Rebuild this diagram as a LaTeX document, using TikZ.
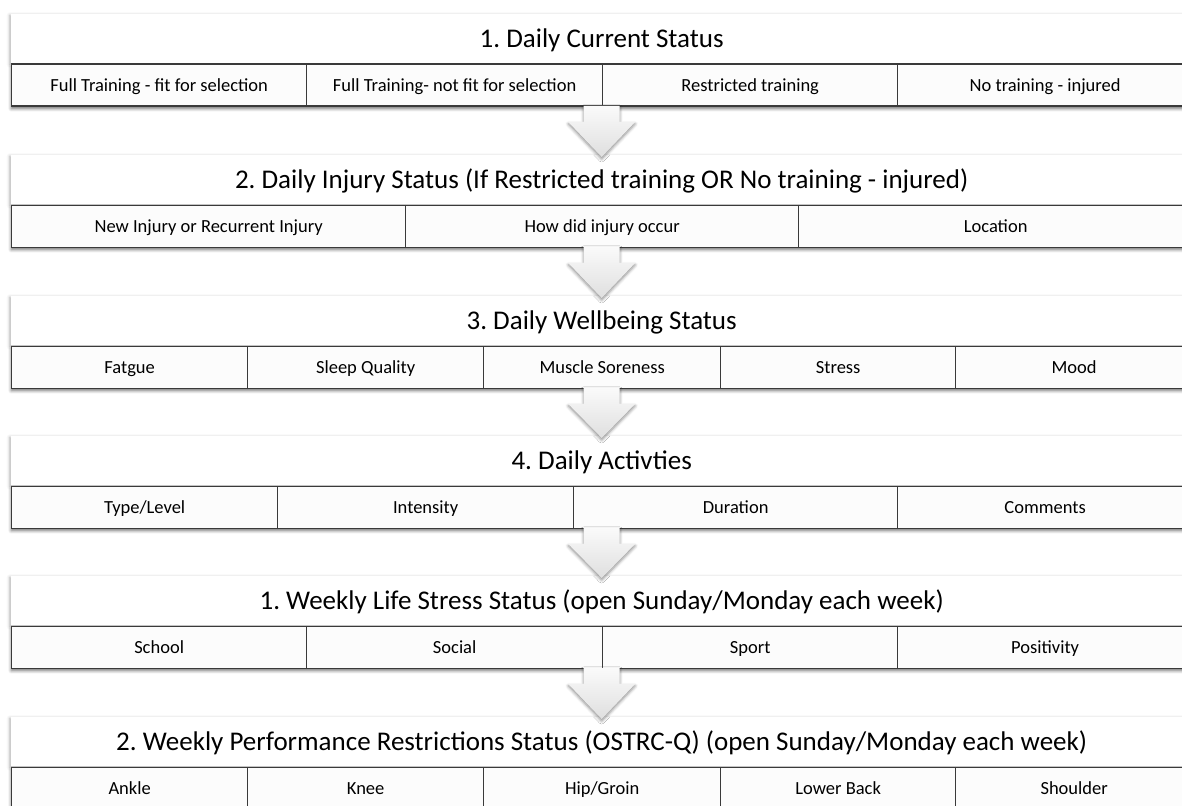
\documentclass[tikz,border=0pt]{standalone}
\usepackage{fontspec}
\setmainfont{Carlito}
\frenchspacing
\usetikzlibrary{shadows.blur,calc}
\definecolor{rule}{HTML}{3A3A3A}
\definecolor{cellfill}{HTML}{FCFCFC}
\tikzset{
  titlebox/.style={rectangle, fill=white, anchor=north west, minimum width=1181pt,
    minimum height=49.5pt, inner sep=0pt, font=\fontsize{27}{30}\selectfont,
    text height=17.4pt, text depth=0pt,
    blur shadow={shadow xshift=-1.5pt, shadow yshift=-1pt, shadow blur radius=3pt, shadow opacity=30}},
  rowbg/.style={rectangle, fill=cellfill, anchor=north west, minimum width=1181pt,
    minimum height=42pt, inner sep=0pt,
    blur shadow={shadow xshift=0pt, shadow yshift=-3pt, shadow blur radius=3pt, shadow opacity=55}},
  cell/.style={rectangle, draw=rule, line width=1.3pt, anchor=north west,
    minimum height=42pt, inner sep=0pt, font=\fontsize{18.5}{21}\selectfont,
    text height=11.9pt, text depth=0pt},
  flow/.style={shading=axis, top color=gray!4, bottom color=gray!25, draw=none,
    blur shadow={shadow xshift=0pt, shadow yshift=-2pt, shadow blur radius=3pt, shadow opacity=45}}
}
% down arrow from the bottom of one row to the top of the next title
\newcommand\downflow[2]{%
  \path[flow] ($(#1.south)+(-18,0)$) -- ($(#1.south)+(18,0)$) -- ($(#1.south)+(18,16)$)
    -- ($(#1.south)+(33.5,16)$) -- ($(#2.north)+(0,2)$) -- ($(#1.south)+(-33.5,16)$)
    -- ($(#1.south)+(-18,16)$) -- cycle;}
\begin{document}
\begin{tikzpicture}[x=1pt,y=-1pt]
\useasboundingbox (0,0) rectangle (1182,805);
\clip (0,0) rectangle (1182,805);

% 1. Daily Current Status
\node[titlebox] (t1) at (11,14) {1. Daily Current Status};
\node[rowbg] (r1) at (11,63.5) {};
\node[cell, minimum width=295pt] (c1a) at (11,63.5) {Full Training - fit for selection};
\node[cell, minimum width=296pt] (c1b) at (306,63.5) {Full Training- not fit for selection};
\node[cell, minimum width=295pt] (c1c) at (602,63.5) {Restricted training};
\node[cell, minimum width=295pt] (c1d) at (897,63.5) {No training - injured};

% 2. Daily Injury Status
\node[titlebox] (t2) at (11,155) {2. Daily Injury Status (If Restricted training OR No training - injured)};
\node[rowbg] (r2) at (11,204.5) {};
\node[cell, minimum width=394pt] (c2a) at (11,204.5) {New Injury or Recurrent Injury};
\node[cell, minimum width=393pt] (c2b) at (405,204.5) {How did injury occur};
\node[cell, minimum width=394pt] (c2c) at (798,204.5) {Location};

% 3. Daily Wellbeing Status
\node[titlebox] (t3) at (11,296) {3. Daily Wellbeing Status};
\node[rowbg] (r3) at (11,345.5) {};
\node[cell, minimum width=236pt] (c3a) at (11,345.5) {Fatgue};
\node[cell, minimum width=236pt] (c3b) at (247,345.5) {Sleep Quality};
\node[cell, minimum width=237pt] (c3c) at (483,345.5) {Muscle Soreness};
\node[cell, minimum width=235pt] (c3d) at (720,345.5) {Stress};
\node[cell, minimum width=237pt] (c3e) at (955,345.5) {Mood};

% 4. Daily Activities
\node[titlebox] (t4) at (11,436) {4. Daily Activties};
\node[rowbg] (r4) at (11,485.5) {};
\node[cell, minimum width=266pt] (c4a) at (11,485.5) {Type/Level};
\node[cell, minimum width=296pt] (c4b) at (277,485.5) {Intensity};
\node[cell, minimum width=324pt] (c4c) at (573,485.5) {Duration};
\node[cell, minimum width=295pt] (c4d) at (897,485.5) {Comments};

% 1. Weekly Life Stress Status
\node[titlebox] (t5) at (11,576) {1. Weekly Life Stress Status (open Sunday/Monday each week)};
\node[rowbg] (r5) at (11,625.5) {};
\node[cell, minimum width=295pt] (c5a) at (11,625.5) {School};
\node[cell, minimum width=296pt] (c5b) at (306,625.5) {Social};
\node[cell, minimum width=295pt] (c5c) at (602,625.5) {Sport};
\node[cell, minimum width=295pt] (c5d) at (897,625.5) {Positivity};

% 2. Weekly Performance Restrictions Status
\node[titlebox] (t6) at (11,717) {2. Weekly Performance Restrictions Status (OSTRC-Q) (open Sunday/Monday each week)};
\node[rowbg] (r6) at (11,766.5) {};
\node[cell, minimum width=236pt] (c6a) at (11,766.5) {Ankle};
\node[cell, minimum width=236pt] (c6b) at (247,766.5) {Knee};
\node[cell, minimum width=237pt] (c6c) at (483,766.5) {Hip/Groin};
\node[cell, minimum width=235pt] (c6d) at (720,766.5) {Lower Back};
\node[cell, minimum width=237pt] (c6e) at (955,766.5) {Shoulder};

% flow arrows between the stages
\downflow{r1}{t2}
\downflow{r2}{t3}
\downflow{r3}{t4}
\downflow{r4}{t5}
\downflow{r5}{t6}
\end{tikzpicture}
\end{document}
